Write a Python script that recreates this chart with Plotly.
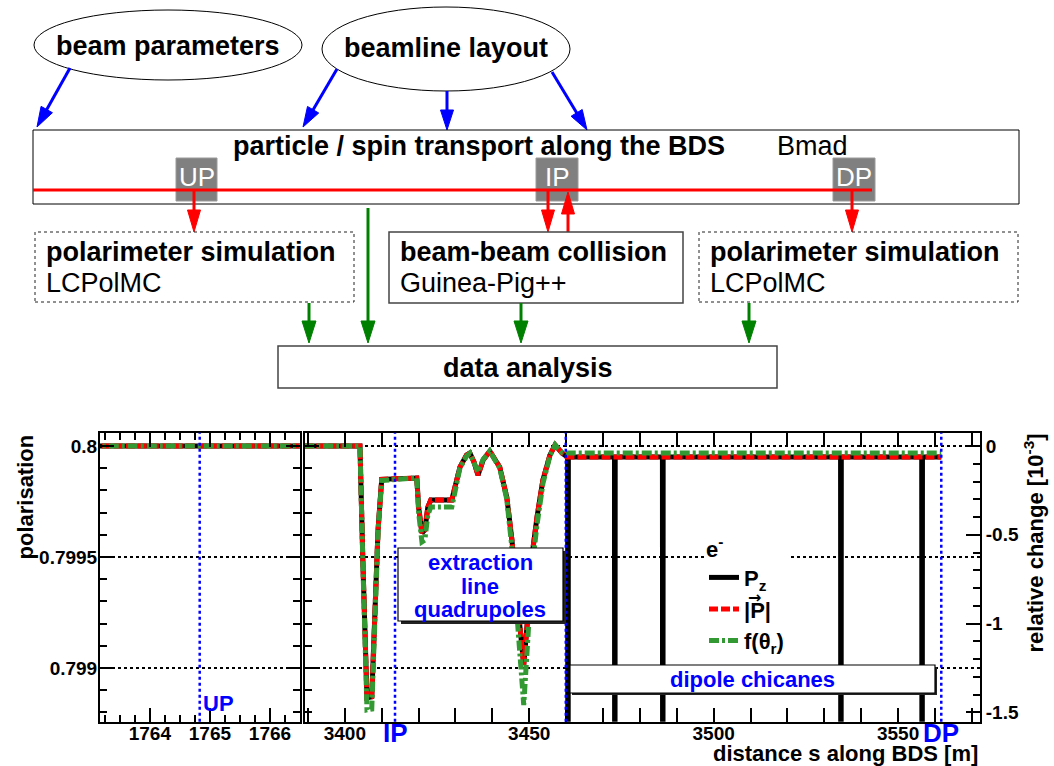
import math
import plotly.graph_objects as go

# ---------------------------------------------------------------- data
# Upstream polarimeter region (all three estimators coincide)
s_up = [1763.0, 1766.6]
pz_up = [0.8, 0.8]
pabs_up = [0.8, 0.8]
ftheta_up = [0.8, 0.8]

# Extraction line: s [m] and polarisation values
s_ext = [3389.0, 3404.1, 3404.9, 3405.7, 3406.0, 3407.3, 3408.1, 3409.0, 3410.0,
         3419.5, 3420.0, 3420.9, 3421.7, 3422.5, 3423.3, 3429.0, 3431.2, 3433.0,
         3433.9, 3435.0, 3436.1, 3437.5, 3439.3, 3442.0, 3443.9, 3445.3, 3446.4,
         3447.7, 3448.5, 3449.6, 3450.7, 3452.1, 3453.7, 3455.6, 3457.0, 3458.9,
         3460.2]
pabs_ext = [0.80000, 0.80000, 0.799473, 0.799023, 0.798865, 0.798870, 0.799230,
            0.799622, 0.799850, 0.799856, 0.799725, 0.799608, 0.799622, 0.799725,
            0.799757, 0.799757, 0.799905, 0.799959, 0.799968, 0.799928, 0.799869,
            0.799937, 0.799977, 0.799905, 0.799770, 0.799577, 0.799365, 0.799113,
            0.799014, 0.799230, 0.799500, 0.799680, 0.799847, 0.799959, 0.800005,
            0.799968, 0.799950]
ftheta_ext = [0.80000, 0.80000, 0.799460, 0.798990, 0.798811, 0.798815, 0.799200,
              0.799610, 0.799845, 0.799856, 0.799700, 0.799568, 0.799577, 0.799689,
              0.799725, 0.799725, 0.799900, 0.799955, 0.799968, 0.799930, 0.799883,
              0.799940, 0.799977, 0.799900, 0.799760, 0.799541, 0.799306, 0.799036,
              0.798833, 0.799126, 0.799441, 0.799644, 0.799830, 0.799955, 0.800005,
              0.799970, 0.799968]

# Dipole chicanes: |P| and f(theta_r) stay flat, P_z swings far off scale
s_chic = [3460.2, 3460.4, 3460.5, 3460.6, 3473.1, 3473.2, 3473.3, 3486.1, 3486.2,
          3486.3, 3534.4, 3534.5, 3534.6, 3556.4, 3556.5, 3556.6, 3561.7]
pz_chic = [0.79995, 0.79995, 0.797, 0.79995, 0.79995, 0.797, 0.79995, 0.79995, 0.797,
           0.79995, 0.79995, 0.797, 0.79995, 0.79995, 0.797, 0.79995, 0.79995]
s_chic_flat = [3460.2, 3561.7]
pabs_chic = [0.79995, 0.79995]
ftheta_chic = [0.799968, 0.799968]

# Reference positions along the BDS [m]
marker_s = {"UP": 1764.83, "IP": 3413.6, "EXT": 3459.9, "DP": 3561.7}

P0 = 0.8
y_range = [0.798758, 0.80006]
x_range_up = [1763.17, 1766.5]
x_range_ext = [3389.2, 3572.2]
y_major = [0.799, 0.7995, 0.8]
rel_major = [-1.5, -1.0, -0.5, 0.0]
rel_labels = ["-1.5", "-1", "-0.5", "0"]
x_major_up = [1764, 1765, 1766]
x_major_ext = [3400, 3450, 3500, 3550]

# ---------------------------------------------------------------- helpers
W, H = 1054, 766
FONT = "Liberation Sans, Arial, sans-serif"


def px(x):
    return x / W


def py(y):
    return 1 - y / H


shapes = []
annotations = []


def rect(x0, y0, x1, y1, line_color="black", lw=1, dash="solid", fill="rgba(0,0,0,0)"):
    shapes.append(dict(type="rect", xref="paper", yref="paper",
                       x0=px(x0), x1=px(x1), y0=py(y1), y1=py(y0),
                       line=dict(color=line_color, width=lw, dash=dash),
                       fillcolor=fill))


def ellipse(x0, y0, x1, y1):
    shapes.append(dict(type="circle", xref="paper", yref="paper",
                       x0=px(x0), x1=px(x1), y0=py(y1), y1=py(y0),
                       line=dict(color="black", width=1)))


def seg(x0, y0, x1, y1, color, lw):
    shapes.append(dict(type="line", xref="paper", yref="paper",
                       x0=px(x0), y0=py(y0), x1=px(x1), y1=py(y1),
                       line=dict(color=color, width=lw)))


def arrow(x0, y0, x1, y1, color, lw=3, hl=20, hw=13):
    dx, dy = x1 - x0, y1 - y0
    L = math.hypot(dx, dy)
    ux, uy = dx / L, dy / L
    bx, by = x1 - ux * hl, y1 - uy * hl
    nx, ny = -uy, ux
    seg(x0, y0, bx + ux * 2, by + uy * 2, color, lw)
    pts = [(x1, y1), (bx + nx * hw / 2, by + ny * hw / 2), (bx - nx * hw / 2, by - ny * hw / 2)]
    path = "M " + " L ".join(f"{px(a):.5f},{py(b):.5f}" for a, b in pts) + " Z"
    shapes.append(dict(type="path", xref="paper", yref="paper", path=path,
                       fillcolor=color, line=dict(color=color, width=1)))


def text(x, y, s, size=27, bold=True, color="black", xanchor="left", yanchor="middle",
         angle=0, family=FONT):
    annotations.append(dict(xref="paper", yref="paper", x=px(x), y=py(y), text=s,
                            showarrow=False, xanchor=xanchor, yanchor=yanchor,
                            textangle=angle,
                            font=dict(family=family, size=size, color=color,
                                      weight="bold" if bold else "normal")))


# ---------------------------------------------------------------- workflow diagram
ellipse(34, 10, 302, 80)
text(168, 46, "beam parameters", xanchor="center")
ellipse(322, 7, 570, 91)
text(446, 48, "beamline layout", xanchor="center")

arrow(70, 68, 37, 127, "blue")
arrow(337, 69, 303, 127, "blue")
arrow(447, 91, 447, 130, "blue")
arrow(552, 72, 587, 130, "blue")

rect(33, 130, 1019, 204, lw=1)
text(479, 146, "particle / spin transport along the BDS", xanchor="center")
text(775, 146, "Bmad", bold=False)

for lab, (x0, x1) in {"UP": (176, 217), "IP": (536, 578), "DP": (833, 875)}.items():
    rect(x0, 158, x1, 201, line_color="#9a9a9a", lw=1, fill="#808080")
    text((x0 + x1) / 2, 177, lab, size=26, bold=False, color="white", xanchor="center")
seg(33, 190, 872, 190, "red", 3)

arrow(194, 190, 194, 232, "red", hl=22)
arrow(548, 190, 548, 232, "red", hl=22)
arrow(568, 232, 568, 192, "red", hl=22)
arrow(852, 190, 852, 232, "red", hl=22)

rect(35, 232, 354, 302, line_color="#222222", lw=1, dash="dot")
text(44, 252, "polarimeter simulation")
text(44, 283, "LCPolMC", bold=False)
rect(389, 232, 683, 303, line_color="#444444", lw=1.5)
text(398, 252, "beam-beam collision")
text(398, 283, "Guinea-Pig++", bold=False)
rect(699, 232, 1018, 302, line_color="#222222", lw=1, dash="dot")
text(708, 252, "polarimeter simulation")
text(708, 283, "LCPolMC", bold=False)

arrow(368, 208, 368, 343, "green", hl=22, hw=14)
arrow(309, 303, 309, 343, "green", hl=22, hw=14)
arrow(521, 303, 521, 343, "green", hl=22, hw=14)
arrow(749, 303, 749, 343, "green", hl=22, hw=14)

rect(278, 346, 777, 388, line_color="#444444", lw=1.5)
text(528, 368, "data analysis", xanchor="center")

# ---------------------------------------------------------------- polarisation plot
fig = go.Figure()

styles = [
    ("<b>P<sub>z</sub></b>", "black", "solid"),
    ("<b>|P|</b>", "red", "9px,3px"),
    ("<b>f(\u03b8<sub>r</sub>)</b>", "#339933", "10px,3px,3px,3px"),
]
up_series = [pz_up, pabs_up, ftheta_up]
ext_series = [
    (s_ext + s_chic, pabs_ext + pz_chic),
    (s_ext + s_chic_flat, pabs_ext + pabs_chic),
    (s_ext + s_chic_flat, ftheta_ext + ftheta_chic),
]
for (name, col, dash), yv in zip(styles, up_series):
    fig.add_trace(go.Scatter(x=s_up, y=yv, mode="lines", xaxis="x", yaxis="y",
                             line=dict(color=col, width=5, dash=dash),
                             showlegend=False, hoverinfo="skip"))
for (name, col, dash), (xv, yv) in zip(styles, ext_series):
    fig.add_trace(go.Scatter(x=xv, y=yv, mode="lines", xaxis="x2", yaxis="y2",
                             name=name, line=dict(color=col, width=5, dash=dash),
                             hoverinfo="skip"))

# Same |P| curve expressed as relative change, carried by the right-hand axis
rel_abs = [(v / P0 - 1) * 1000 for v in pabs_ext]
fig.add_trace(go.Scatter(x=s_ext, y=rel_abs, mode="lines", xaxis="x2", yaxis="y3",
                         line=dict(color="rgba(0,0,0,0)", width=0),
                         showlegend=False, hoverinfo="skip"))

rel_range = [(y_range[0] / P0 - 1) * 1000, (y_range[1] / P0 - 1) * 1000]

PLOT_TOP, PLOT_BOT = 432.7, 721.7
ydom = [py(PLOT_BOT), py(PLOT_TOP)]
tickfont = dict(family=FONT, size=19, color="black", weight="bold")

common_x = dict(showline=True, linecolor="black", linewidth=2, mirror="allticks",
                ticks="inside", ticklen=14, tickwidth=1.5, tickcolor="black",
                showgrid=False, zeroline=False, tickfont=tickfont,
                ticklabelstandoff=-7, ticklabeloverflow="allow")
common_y = dict(showline=True, linecolor="black", linewidth=2,
                ticks="inside", ticklen=14, tickwidth=1.5, tickcolor="black",
                showgrid=True, gridcolor="black", griddash="dot", gridwidth=1.5,
                zeroline=False, tickfont=tickfont, range=y_range,
                tickvals=y_major, ticklabeloverflow="allow",
                minor=dict(dtick=0.0001, tick0=0.799, ticks="inside", ticklen=7,
                           tickcolor="black", showgrid=False))

fig.update_layout(
    width=W, height=H,
    margin=dict(l=0, r=0, t=0, b=0),
    paper_bgcolor="white", plot_bgcolor="white",
    xaxis=dict(domain=[px(100), px(300)], anchor="y", range=x_range_up,
               tickvals=x_major_up,
               minor=dict(dtick=0.25, tick0=1764, ticks="inside", ticklen=7,
                          tickcolor="black"),
               **common_x),
    yaxis=dict(domain=ydom, anchor="x", mirror="allticks", ticklabelstandoff=-3,
               **common_y),
    xaxis2=dict(domain=[px(305), px(980)], anchor="y2", range=x_range_ext,
                tickvals=x_major_ext,
                minor=dict(dtick=10, tick0=3400, ticks="inside", ticklen=7,
                           tickcolor="black"),
                **common_x),
    yaxis2=dict(domain=ydom, anchor="x2", showticklabels=False,
                mirror=False, **common_y),
    yaxis3=dict(overlaying="y2", anchor="x2", side="right", range=rel_range,
                showline=True, linecolor="black", linewidth=2,
                ticks="inside", ticklen=14, tickwidth=1.5, tickcolor="black",
                tickmode="array", tickvals=rel_major, ticktext=rel_labels,
                showticklabels=True, showgrid=False, ticklabeloverflow="allow",
                zeroline=False, tickfont=tickfont,
                minor=dict(dtick=0.1, tick0=0, ticks="inside", ticklen=7,
                           tickcolor="black")),
    showlegend=True,
    legend=dict(x=px(704), y=py(528), xanchor="left", yanchor="top",
                bgcolor="white", borderwidth=0, itemwidth=30,
                font=dict(family=FONT, size=22, color="black"),
                title=dict(text="<b>e<sup>-</sup></b>",
                           font=dict(family=FONT, size=22, color="black"))),
)

# Vector arrow over the |P| legend label
text(754, 597, "\u2192", size=16, family="DejaVu Sans", xanchor="center")

# Reference lines for the polarimeters, the IP and the end of the extraction quads
for key, xref in [("UP", "x"), ("IP", "x2"), ("EXT", "x2"), ("DP", "x2")]:
    shapes.append(dict(type="line", xref=xref, yref="paper",
                       x0=marker_s[key], x1=marker_s[key],
                       y0=py(PLOT_BOT), y1=py(PLOT_TOP),
                       line=dict(color="blue", width=2.5, dash="dot")))

annotations.append(dict(xref="x", yref="paper", x=marker_s["UP"], y=py(703), text="<b>UP</b>",
                        showarrow=False, xanchor="left", yanchor="middle", xshift=1,
                        font=dict(family=FONT, size=22, color="blue")))
for key in ["IP", "DP"]:
    annotations.append(dict(xref="x2", yref="paper", x=marker_s[key], y=py(733),
                            text=f"<b>{key}</b>", showarrow=False, xanchor="center",
                            yanchor="middle",
                            font=dict(family=FONT, size=26, color="blue")))

# Text boxes inside the plot (with drop shadow)
rect(401, 551, 566, 624, line_color="#222222", lw=0, fill="#222222")
rect(398, 548, 563, 621, lw=1.2, fill="white")
text(480, 562, "extraction", size=22, color="blue", xanchor="center")
text(480, 586, "line", size=22, color="blue", xanchor="center")
text(480, 609, "quadrupoles", size=22, color="blue", xanchor="center")

rect(572, 667, 937, 695, line_color="#222222", lw=0, fill="#222222")
rect(570, 665, 935, 693, lw=1.2, fill="white")
text(752, 679, "dipole chicanes", size=22, color="blue", xanchor="center")

# Axis titles
text(25, 433, "polarisation", size=22, xanchor="center", yanchor="top", angle=-90)
text(1033, 432, "relative change [10<sup>-3</sup>]", size=22, xanchor="center",
     yanchor="top", angle=-90)
text(980, 753, "distance s along BDS [m]", size=22, xanchor="right")

fig.update_layout(shapes=shapes, annotations=annotations)
fig.write_html("out.html")
